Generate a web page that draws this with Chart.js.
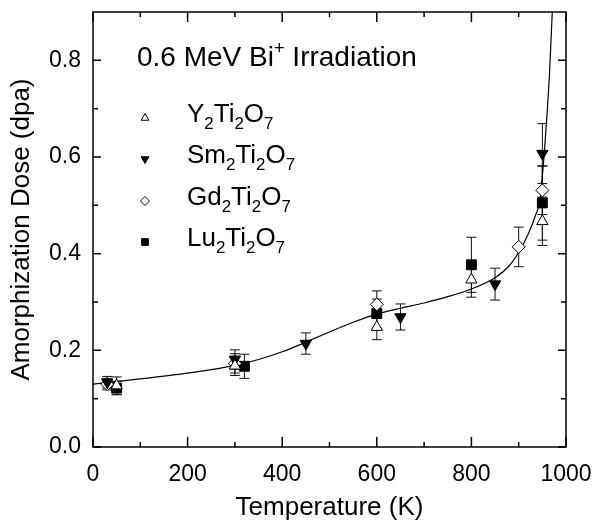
<!DOCTYPE html>
<html>
<head>
<meta charset="utf-8">
<script src="https://cdn.jsdelivr.net/npm/chart.js@4.4.1/dist/chart.umd.min.js"></script>
<style>
  html, body { margin: 0; padding: 0; background: #fff; }
  #caixa { width: 596px; height: 527px; }
</style>
</head>
<body>
<div id="caixa"><canvas id="grafico"></canvas></div>
<script>
// valores
const yT = [50, 300, 600, 800, 950];
const yD = [0.127, 0.168, 0.248, 0.346, 0.467];
const yErr = [0.018, 0.02, 0.026, 0.036, 0.05];

const smT = [30, 300, 450, 650, 850, 950];
const smD = [0.134, 0.181, 0.214, 0.269, 0.337, 0.607];
const smErr = [0.012, 0.02, 0.022, 0.027, 0.033, 0.062];

const gdT = [30, 300, 600, 900, 950];
const gdD = [0.13, 0.173, 0.295, 0.414, 0.531];
const gdErr = [0.012, 0.02, 0.028, 0.041, 0.05];

const luT = [50, 320, 600, 800, 950];
const luD = [0.122, 0.167, 0.276, 0.377, 0.505];
const luErr = [0.014, 0.025, 0.03, 0.057, 0.077];

// curva de ajuste (lida ponto a ponto)
const curveT = [0, 100, 200, 250, 300, 350, 400, 450, 500, 550, 600, 650, 700, 750, 800, 850, 880, 900, 920, 935, 945, 950, 955, 960, 965, 971, 974];
const curveD = [0.130, 0.141, 0.153, 0.160, 0.169, 0.181, 0.197, 0.217, 0.238, 0.258, 0.275, 0.287, 0.298, 0.311, 0.327, 0.350, 0.375, 0.403, 0.440, 0.478, 0.51, 0.56, 0.62, 0.69, 0.77, 0.90, 0.96];

const xTicks = [0, 200, 400, 600, 800, 1000];
const xMinor = [100, 300, 500, 700, 900];
const yTicks = [0, 0.2, 0.4, 0.6, 0.8];
const yMinor = [0.1, 0.3, 0.5, 0.7];

const nomes = ['Y2Ti2O7', 'Sm2Ti2O7', 'Gd2Ti2O7', 'Lu2Ti2O7'];

const fonte = '"Liberation Sans", Arial, Helvetica, sans-serif';

const pontos = (xs, ys) => xs.map((x, i) => ({ x: x, y: ys[i] }));

// texto com subscritos (digitos) e sobrescritos
function textoRico(ctx, x, y, partes, tam) {
  let cx = x;
  partes.forEach(([txt, modo]) => {
    let t = tam, dy = 0;
    if (modo === 'sub') { t = tam * 0.65; dy = tam * 0.28; }
    if (modo === 'sup') { t = tam * 0.65; dy = -tam * 0.42; }
    ctx.font = t + 'px ' + fonte;
    ctx.fillText(txt, cx, y + dy);
    cx += ctx.measureText(txt).width;
  });
}

function partesFormula(s) {
  return s.split(/(\d)/).filter(p => p).map(p => [p, /\d/.test(p) ? 'sub' : 'n']);
}

function marcador(ctx, tipo, x, y, r) {
  ctx.save();
  ctx.beginPath();
  ctx.lineWidth = 1;
  ctx.strokeStyle = '#000';
  if (tipo === 'triUp') {
    ctx.moveTo(x, y - r); ctx.lineTo(x + r * 0.866, y + r * 0.5); ctx.lineTo(x - r * 0.866, y + r * 0.5);
    ctx.closePath(); ctx.fillStyle = '#fff'; ctx.fill(); ctx.stroke();
  } else if (tipo === 'triDown') {
    ctx.moveTo(x, y + r); ctx.lineTo(x + r * 0.866, y - r * 0.5); ctx.lineTo(x - r * 0.866, y - r * 0.5);
    ctx.closePath(); ctx.fillStyle = '#000'; ctx.fill(); ctx.stroke();
  } else if (tipo === 'diamond') {
    ctx.moveTo(x, y - r); ctx.lineTo(x + r, y); ctx.lineTo(x, y + r); ctx.lineTo(x - r, y);
    ctx.closePath(); ctx.fillStyle = '#fff'; ctx.fill(); ctx.stroke();
  } else {
    const h = r * 0.75;
    ctx.rect(x - h, y - h, 2 * h, 2 * h);
    ctx.fillStyle = '#000'; ctx.fill(); ctx.stroke();
  }
  ctx.restore();
}

const barrasErro = {
  id: 'barrasErro',
  beforeDatasetsDraw(chart) {
    const { ctx, scales: { x, y } } = chart;
    ctx.save();
    ctx.strokeStyle = '#111';
    ctx.lineWidth = 1;
    chart.data.datasets.forEach(ds => {
      if (!ds.erros) return;
      ds.data.forEach((p, i) => {
        const px = x.getPixelForValue(p.x);
        const y1 = y.getPixelForValue(p.y + ds.erros[i]);
        const y2 = y.getPixelForValue(p.y - ds.erros[i]);
        ctx.beginPath();
        ctx.moveTo(px, y1); ctx.lineTo(px, y2);
        ctx.moveTo(px - 5, y1); ctx.lineTo(px + 5, y1);
        ctx.moveTo(px - 5, y2); ctx.lineTo(px + 5, y2);
        ctx.stroke();
      });
    });
    ctx.restore();
  }
};

const moldura = {
  id: 'moldura',
  afterDraw(chart) {
    const { ctx, chartArea: a, scales: { x, y } } = chart;
    ctx.save();
    ctx.strokeStyle = '#000';
    ctx.lineWidth = 1.5;
    ctx.strokeRect(a.left, a.top, a.right - a.left, a.bottom - a.top);
    ctx.beginPath();
    const tx = (v, len) => {
      const px = x.getPixelForValue(v);
      ctx.moveTo(px, a.bottom); ctx.lineTo(px, a.bottom - len);
      ctx.moveTo(px, a.top); ctx.lineTo(px, a.top + len);
    };
    const ty = (v, len) => {
      const py = y.getPixelForValue(v);
      ctx.moveTo(a.left, py); ctx.lineTo(a.left + len, py);
      ctx.moveTo(a.right, py); ctx.lineTo(a.right - len, py);
    };
    xTicks.forEach(v => tx(v, 10));
    xMinor.forEach(v => tx(v, 5));
    yTicks.forEach(v => ty(v, 8));
    yMinor.forEach(v => ty(v, 5));
    ctx.stroke();

    // legenda
    ctx.fillStyle = '#000';
    ctx.textBaseline = 'alphabetic';
    textoRico(ctx, 137, 66, [['0.6 MeV Bi', 'n'], ['+', 'sup'], [' Irradiation', 'n']], 28);
    const tipos = ['triUp', 'triDown', 'diamond', 'square'];
    const linhas = [122, 163, 205, 246];
    nomes.forEach((n, i) => {
      marcador(ctx, tipos[i], 145, linhas[i] - 4, 4.5);
      ctx.fillStyle = '#000';
      textoRico(ctx, 187, linhas[i], partesFormula(n), 26);
    });
    ctx.restore();
  }
};

const serie = (label, xs, ys, errs, estilo, rot, cheio, r) => ({
  label: label,
  data: pontos(xs, ys),
  erros: errs,
  pointStyle: estilo,
  rotation: rot,
  pointRadius: r,
  pointBorderWidth: 1,
  pointBorderColor: '#000',
  pointBackgroundColor: cheio ? '#000' : '#fff',
  showLine: false
});

new Chart(document.getElementById('grafico'), {
  type: 'scatter',
  data: {
    datasets: [
      serie(nomes[0], yT, yD, yErr, 'triangle', 0, false, 6.5),
      serie(nomes[1], smT, smD, smErr, 'triangle', 180, true, 6.5),
      serie(nomes[2], gdT, gdD, gdErr, 'rectRot', 0, false, 6.5),
      serie(nomes[3], luT, luD, luErr, 'rect', 0, true, 7),
      {
        label: 'ajuste',
        data: pontos(curveT, curveD),
        showLine: true,
        borderColor: '#000',
        borderWidth: 1.2,
        pointRadius: 0,
        cubicInterpolationMode: 'monotone'
      }
    ]
  },
  options: {
    responsive: true,
    maintainAspectRatio: false,
    animation: false,
    layout: { padding: { top: 12, right: 30, left: 0, bottom: 0 } },
    plugins: { legend: { display: false }, tooltip: { enabled: false } },
    scales: {
      x: {
        type: 'linear', min: 0, max: 1000,
        afterBuildTicks: s => { s.ticks = xTicks.map(v => ({ value: v })); },
        afterFit: s => { s.height = 80; s.paddingLeft = 0; s.paddingRight = 0; },
        grid: { display: false, drawTicks: false },
        border: { display: false },
        ticks: { color: '#000', padding: 14, font: { family: fonte, size: 23 }, callback: v => String(v) },
        title: { display: true, text: 'Temperature (K)', color: '#000', padding: { top: 0, bottom: 4 }, font: { family: fonte, size: 26 } }
      },
      y: {
        type: 'linear', min: 0, max: 0.9,
        afterBuildTicks: s => { s.ticks = yTicks.map(v => ({ value: v })); },
        afterFit: s => { s.width = 93; s.paddingTop = 0; s.paddingBottom = 0; },
        grid: { display: false, drawTicks: false },
        border: { display: false },
        ticks: { color: '#000', padding: 12, font: { family: fonte, size: 23 }, callback: v => v.toFixed(1) },
        title: { display: true, text: 'Amorphization Dose (dpa)', color: '#000', padding: { top: 6, bottom: 0 }, font: { family: fonte, size: 26 } }
      }
    }
  },
  plugins: [barrasErro, moldura]
});
</script>
</body>
</html>
